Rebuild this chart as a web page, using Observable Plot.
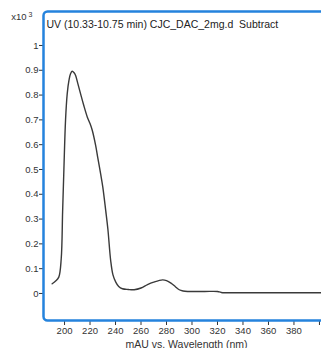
<!DOCTYPE html>
<html>
<head>
<meta charset="utf-8">
<script src="https://cdn.jsdelivr.net/npm/d3@7"></script>
<script src="https://cdn.jsdelivr.net/npm/@observablehq/plot@0.6"></script>
<style>
  html, body { margin: 0; padding: 0; background: white; }
  #wrap { width: 321px; height: 348px; overflow: hidden; position: relative; }
  #wrap svg { overflow: hidden; }
</style>
</head>
<body>
<div id="wrap"></div>
<script>
// Data
const wavelength = [190.3, 193, 195.5, 197.4, 198.5, 199.5, 200.8, 202.1, 203.5, 204.7, 206, 207.5, 208.7, 210.5, 212.6, 215, 217.9, 220, 221.8, 224.4, 226, 228.3, 230, 232.3, 234, 236.2, 238, 240.2, 242.5, 245.4, 250, 254.6, 260, 265.1, 270, 276.9, 280, 283.5, 287, 290, 293, 296.6, 310, 320, 323, 338.6, 360, 380, 401.6];
const absorbance = [0.039, 0.050, 0.066, 0.140, 0.33, 0.50, 0.70, 0.805, 0.86, 0.886, 0.896, 0.890, 0.879, 0.845, 0.805, 0.76, 0.711, 0.685, 0.657, 0.597, 0.55, 0.483, 0.43, 0.335, 0.26, 0.133, 0.075, 0.046, 0.028, 0.019, 0.016, 0.015, 0.022, 0.036, 0.046, 0.055, 0.052, 0.042, 0.027, 0.015, 0.010, 0.008, 0.008, 0.008, 0.004, 0.003, 0.003, 0.003, 0.003];
const xTicks = [200, 220, 240, 260, 280, 300, 320, 340, 360, 380, 400];
const xTickLabels = ["200", "220", "240", "260", "280", "300", "320", "340", "360", "380", ""];
const yTicks = [0, 0.1, 0.2, 0.3, 0.4, 0.5, 0.6, 0.7, 0.8, 0.9, 1];
const yTickLabels = ["0", "0.1", "0.2", "0.3", "0.4", "0.5", "0.6", "0.7", "0.8", "0.9", "1"];
const titleText = ["UV (10.33-10.75 min) CJC_DAC_2mg.d  Subtract"];
const scaleText = ["x10"];
const scaleExp = ["3"];
const xLabelText = ["mAU vs. Wavelength (nm)"];

const rows = wavelength.map((w, i) => ({w, a: absorbance[i]}));
const font = "Liberation Sans, Arial, sans-serif";

const chart = Plot.plot({
  width: 321,
  height: 348,
  marginLeft: 43,
  marginRight: 0,
  marginTop: 11,
  marginBottom: 28,
  style: {fontFamily: font, fontSize: "9.5px", color: "#333", background: "white"},
  x: {domain: [183.5, 401.6], label: null},
  y: {domain: [-0.109, 1.137], label: null},
  marks: [
    Plot.axisX({ticks: xTicks, tickSize: 5, tickPadding: 2, tickFormat: (d) => xTickLabels[xTicks.indexOf(d)], stroke: "#333", label: null}),
    Plot.axisY({ticks: yTicks, tickSize: 4, tickPadding: 1, tickFormat: (d) => yTickLabels[yTicks.indexOf(d)], stroke: "#333", label: null}),
    Plot.line(rows, {x: "w", y: "a", stroke: "#3a3a3a", strokeWidth: 1.4, curve: "catmull-rom"}),
    Plot.frame({stroke: "#2583dd", strokeWidth: 2.5, rx: 4, insetRight: -12}),
    Plot.text(titleText, {text: (d) => d, frameAnchor: "top-left", textAnchor: "start", lineAnchor: "bottom", dx: 3, dy: 16, fontSize: 10.5, fill: "#222"}),
    Plot.text(scaleText, {text: (d) => d, frameAnchor: "top-left", textAnchor: "end", lineAnchor: "bottom", dx: -17, dy: 8, fontSize: 9.5, fill: "#333"}),
    Plot.text(scaleExp, {text: (d) => d, frameAnchor: "top-left", textAnchor: "end", lineAnchor: "bottom", dx: -11, dy: 5, fontSize: 7, fill: "#333"}),
    Plot.text(xLabelText, {text: (d) => d, frameAnchor: "bottom", textAnchor: "middle", lineAnchor: "bottom", dx: 4, dy: 27, fontSize: 10.5, fill: "#333"})
  ]
});
document.getElementById("wrap").appendChild(chart);
</script>
</body>
</html>
